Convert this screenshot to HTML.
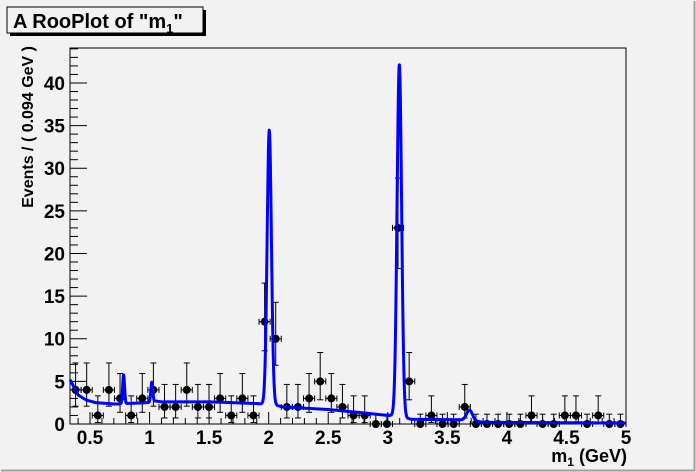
<!DOCTYPE html>
<html><head><meta charset="utf-8"><style>
html,body{margin:0;padding:0;background:#f2f2f2;}
svg{display:block;font-family:"Liberation Sans",Arial,sans-serif;}
</style></head><body>
<svg id="c" width="696" height="472" xmlns="http://www.w3.org/2000/svg">
<rect x="0" y="0" width="696" height="472" fill="#f2f2f2"/>
<line x1="1" y1="470.5" x2="695" y2="470.5" stroke="#a0a0a0" stroke-width="2"/>
<line x1="694.5" y1="1" x2="694.5" y2="471" stroke="#a0a0a0" stroke-width="2"/>
<g>
<rect x="10" y="10" width="196" height="26" fill="#000"/>
<rect x="7" y="7" width="196" height="26" fill="#f2f2f2" stroke="#000" stroke-width="1"/>
<text x="13" y="28" font-size="20" font-weight="bold">A RooPlot of "m<tspan font-size="13" dy="5">1</tspan><tspan dy="-5">"</tspan></text>
</g>
<text transform="translate(33,46) rotate(-90)" text-anchor="end" font-size="16" font-weight="bold">Events / ( 0.094 GeV )</text>
<text x="627" y="462" text-anchor="end" font-size="18" font-weight="bold">m<tspan font-size="12" dy="4">1</tspan><tspan dy="-4"> (GeV)</tspan></text>
<g id="plot"></g>
</svg>
<script>
const counts=[4,4,1,4,3,1,3,4,2,2,4,2,2,3,1,3,1,12,10,2,2,3,5,3,2,1,1,0,0,23,5,0,1,0,0,2,0,0,0,0,0,1,0,0,1,1,0,1,0,0];
const bkgX=[0.332,0.40,0.47,0.55,0.70,0.76,0.80,0.98,1.05,1.10,1.50,1.90,2.06,2.12,2.50,2.80,3.00,3.05,3.20,3.60,3.75,3.80,4.5,5.0];
const bkgY=[5.2,3.4,2.8,2.5,2.35,2.35,2.4,2.5,2.7,2.6,2.6,2.4,2.2,2.0,1.7,1.3,1.0,1.0,0.55,0.5,0.3,0.2,0.15,0.1];
const peakMu=[0.782,1.019,2.005,3.097,3.686];
const peakH=[3.4,2.3,32.2,41.3,1.25];
const peakSig=[0.008,0.008,0.018,0.019,0.025];
const yTicks=[0,5,10,15,20,25,30,35,40];
const xTicks=[0.5,1,1.5,2,2.5,3,3.5,4,4.5,5];
const X0=70,X1=626,Y0=424,Y1=48,xmin=0.332,xmax=5,ymax=44.1;
const nb=counts.length,bw=(xmax-xmin)/nb;
const sx=v=>X0+(v-xmin)/(xmax-xmin)*(X1-X0);
const sy=v=>Y0-v/ymax*(Y0-Y1);
const NS='http://www.w3.org/2000/svg';
const g=document.getElementById('plot');
function mk(t,a,p){const e=document.createElementNS(NS,t);for(const k in a)e.setAttribute(k,a[k]);(p||g).appendChild(e);return e;}
const errLo={0:0,1:0.83,2:1.29,3:1.63,4:1.91,5:2.16,10:3.11,12:3.41,23:4.77};
const errHi={0:1.15,1:2.30,2:2.64,3:2.92,4:3.16,5:3.38,10:4.27,12:4.53,23:5.84};
const fr=mk('rect',{x:X0,y:Y1,width:X1-X0,height:Y0-Y1,fill:'#f2f2f2',stroke:'#000','stroke-width':1});


const ya=mk('g',{});


for(let v=0;v<=44;v++){const y=sy(v);mk('line',{x1:X0,x2:X0+(v%5==0?17:8),y1:y,y2:y,stroke:'#000'},ya);}
yTicks.forEach(v=>{const t=mk('text',{x:X0-5,y:sy(v)+7,'text-anchor':'end','font-size':19,'font-weight':'bold'},ya);t.textContent=v;

});
const xa=mk('g',{});


for(let i=4;i<=50;i++){const v=i/10;const x=sx(v);mk('line',{x1:x,x2:x,y1:Y0,y2:Y0-(i%5==0?12:6),stroke:'#000'},xa);}
xTicks.forEach(v=>{const t=mk('text',{x:sx(v),y:Y0+20,'text-anchor':'middle','font-size':19,'font-weight':'bold'},xa);t.textContent=v;

});
const dg=mk('g',{});


counts.forEach((n,i)=>{const c=xmin+(i+0.5)*bw,x=sx(c),y=sy(n);
 const lo=errLo[n]!==undefined?errLo[n]:Math.sqrt(n),hi=errHi[n]!==undefined?errHi[n]:Math.sqrt(n)+1;
 const p=mk('g',{},dg);
 
 
 const xl=sx(c-bw/2),xr=sx(c+bw/2);
 mk('line',{x1:xl,x2:xr,y1:y,y2:y,stroke:'#000'},p);
 mk('line',{x1:xl,x2:xl,y1:y-3,y2:y+3,stroke:'#000'},p);
 mk('line',{x1:xr,x2:xr,y1:y-3,y2:y+3,stroke:'#000'},p);
 mk('line',{x1:x,x2:x,y1:sy(n+hi),y2:sy(n-lo),stroke:'#000'},p);
 mk('line',{x1:x-3,x2:x+3,y1:sy(n+hi),y2:sy(n+hi),stroke:'#000'},p);
 if(n>0)mk('line',{x1:x-3,x2:x+3,y1:sy(n-lo),y2:sy(n-lo),stroke:'#000'},p);
 mk('circle',{cx:x,cy:y,r:4,fill:'#000'},p);
});
function bkg(v){for(let i=0;i<bkgX.length-1;i++){if(v<=bkgX[i+1]){const t=(v-bkgX[i])/(bkgX[i+1]-bkgX[i]);return bkgY[i]+t*(bkgY[i+1]-bkgY[i]);}}return bkgY[bkgY.length-1];}
function model(v){let s=bkg(v);for(let k=0;k<peakMu.length;k++){const d=(v-peakMu[k])/peakSig[k];s+=peakH[k]*Math.exp(-0.5*d*d);}return s;}
let d='';for(let i=0;i<=2400;i++){const v=xmin+(xmax-xmin)*i/2400;d+=(i?'L':'M')+sx(v).toFixed(2)+','+sy(Math.min(model(v),ymax)).toFixed(2);}
const cu=mk('path',{d:d,fill:'none',stroke:'#0000ff','stroke-width':3,'stroke-linejoin':'round'});


</script>
</body></html>
